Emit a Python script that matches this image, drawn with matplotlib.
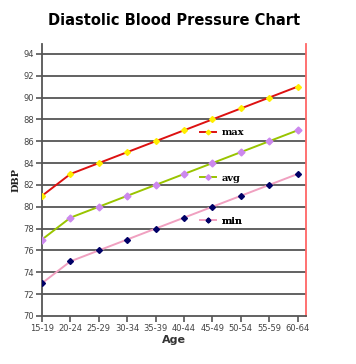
import numpy as np
from matplotlib import pyplot as plt

ages = ["15-19", "20-24", "25-29", "30-34", "35-39", "40-44", "45-49", "50-54", "55-59", "60-64"]
dbp_max = [81, 83, 84, 85, 86, 87, 88, 89, 90, 91]
dbp_avg = [77, 79, 80, 81, 82, 83, 84, 85, 86, 87]
dbp_min = [73, 75, 76, 77, 78, 79, 80, 81, 82, 83]
y_ticks = list(range(70, 96, 2))

x = np.arange(len(ages))

fig = plt.figure(figsize=(3.56, 3.64), dpi=100)
ax = fig.add_axes([0.118, 0.132, 0.742, 0.747])

for yv in y_ticks[1:]:
    ax.axhline(yv, color='#555555', lw=1.3, zorder=1)

l_max, = ax.plot(x, dbp_max, color='#dd1111', lw=1.4, marker='D', ms=3,
                 mfc='#ffee00', mec='#ffee00', zorder=3)
l_avg, = ax.plot(x, dbp_avg, color='#99c400', lw=1.4, marker='D', ms=3.5,
                 mfc='#cc88ee', mec='#cc88ee', zorder=3)
l_min, = ax.plot(x, dbp_min, color='#f0a0c0', lw=1.4, marker='D', ms=3,
                 mfc='#000066', mec='#000066', zorder=3)

ax.set_xlim(0, 9.3)
ax.set_ylim(70, 94.9)
ax.set_xticks(x)
ax.set_xticklabels(ages, fontsize=6, color='#444444')
ax.set_yticks(y_ticks)
ax.set_yticklabels(y_ticks, fontsize=6, color='#444444')
ax.tick_params(axis='y', length=4, width=1.2, color='#555555', pad=2)
ax.tick_params(axis='x', length=4, width=1.2, color='#555555', pad=2)

ax.spines['top'].set_visible(False)
ax.spines['right'].set_color('#ff6666')
ax.spines['right'].set_linewidth(1.3)
ax.spines['left'].set_color('#555555')
ax.spines['left'].set_linewidth(1.3)
ax.spines['bottom'].set_color('#555555')
ax.spines['bottom'].set_linewidth(1.3)

ax.set_xlabel('Age', fontsize=8, fontweight='bold', color='#333333', labelpad=1)
ax.set_ylabel('DBP', fontsize=7, fontweight='bold', family='serif', color='#222222', labelpad=2)

fig.text(0.49, 0.945, 'Diastolic Blood Pressure Chart', ha='center', va='center',
         fontsize=10.5, fontweight='bold')

prop = {'family': 'serif', 'weight': 'bold', 'size': 7}
for handle, name, yy in [(l_max, 'max', 0.673), (l_avg, 'avg', 0.507), (l_min, 'min', 0.349)]:
    leg = ax.legend([handle], [name], loc='center left', bbox_to_anchor=(0.58, yy),
                    frameon=False, handlelength=1.6, prop=prop, borderpad=0,
                    handletextpad=0.6, markerscale=0.8)
    ax.add_artist(leg)

fig.savefig('out.png', dpi=100)
